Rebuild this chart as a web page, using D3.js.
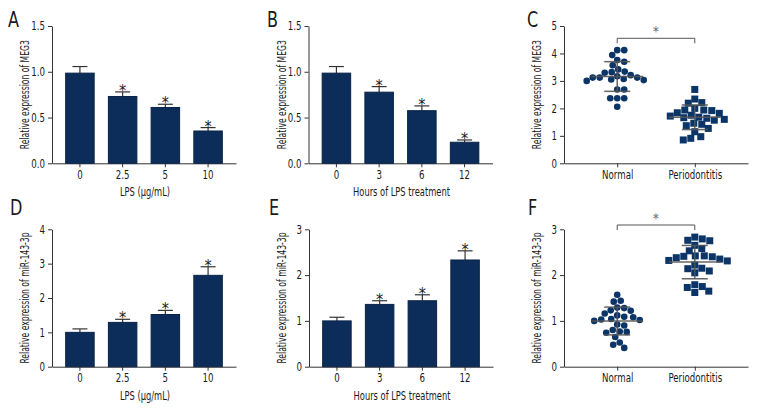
<!DOCTYPE html>
<html><head><meta charset="utf-8">
<script src="https://cdn.jsdelivr.net/npm/d3@7"></script>
<style>
body{margin:0;background:#fff}
svg{display:block}
text{font-family:"DejaVu Sans Condensed","Liberation Sans Narrow",sans-serif;fill:#1a1a1a}
</style>
</head><body>
<svg id="chart" width="768" height="420"></svg>
<script>
// ---- data ----
const lpsDoses = ["0", "2.5", "5", "10"];
const lpsHours = ["0", "3", "6", "12"];
const groups = ["Normal", "Periodontitis"];

const megDose = [0.985, 0.73, 0.61, 0.353];
const megDoseErr = [0.072, 0.05, 0.035, 0.037];
const megHours = [0.985, 0.777, 0.575, 0.23];
const megHoursErr = [0.072, 0.061, 0.052, 0.025];
const mirDose = [1.0, 1.29, 1.52, 2.66];
const mirDoseErr = [0.1, 0.09, 0.12, 0.25];
const mirHours = [1.0, 1.36, 1.44, 2.33];
const mirHoursErr = [0.08, 0.08, 0.13, 0.2];
const significant = [false, true, true, true];

const megNormal = [4.12, 4.12, 3.94, 3.76, 3.70, 3.57, 3.42, 3.34, 3.32, 3.30, 3.21, 3.17, 3.12, 3.12, 3.12, 3.07, 3.05, 3.03, 3.0, 2.69, 2.69, 2.37, 2.37, 2.37, 2.06];
const megPerio = [2.69, 2.34, 2.21, 2.19, 2.0, 1.94, 1.94, 1.92, 1.84, 1.82, 1.75, 1.72, 1.68, 1.66, 1.64, 1.60, 1.57, 1.46, 1.42, 1.37, 1.27, 1.15, 0.97, 0.91, 0.85];
const mirNormal = [1.57, 1.44, 1.42, 1.29, 1.28, 1.23, 1.22, 1.16, 1.12, 1.09, 1.08, 1.04, 1.03, 1.02, 1.0, 0.92, 0.90, 0.80, 0.77, 0.76, 0.74, 0.65, 0.53, 0.48, 0.41];
const mirPerio = [2.83, 2.79, 2.76, 2.75, 2.65, 2.58, 2.53, 2.42, 2.42, 2.41, 2.40, 2.38, 2.35, 2.32, 2.31, 2.22, 2.15, 2.14, 2.09, 2.05, 1.79, 1.75, 1.73, 1.65, 1.62];

const ticks15 = [0, 0.5, 1.0, 1.5];
const ticks5 = [0, 1, 2, 3, 4, 5];
const ticks4 = [0, 1, 2, 3, 4];
const ticks3 = [0, 1, 2, 3];

// ---- drawing ----
const svg = d3.select("#chart");
const BAR = "#0c2d5a", DOT = "#0b3467", AX = "#333", GR = "#555";
const FONT = '"DejaVu Sans Condensed","Liberation Sans Narrow",sans-serif';

function condense(sel, f) {
  sel.each(function () {
    const L = this.getComputedTextLength();
    if (L > 0) d3.select(this).attr("textLength", L * f).attr("lengthAdjust", "spacingAndGlyphs");
  });
}

function styleAxis(g) {
  g.selectAll(".domain").attr("stroke", AX).attr("stroke-width", 1);
  g.selectAll(".tick line").attr("stroke", AX);
  g.selectAll(".tick text").attr("font-size", 12).attr("fill", "#1a1a1a").attr("font-family", FONT)
    .call(condense, 0.8);
}

function frame(o, x) {
  const y = d3.scaleLinear().domain([0, o.yMax]).range([o.bottom, o.top]);
  const g = svg.append("g");
  g.append("g").attr("transform", `translate(0,${o.bottom})`)
    .call(d3.axisBottom(x).tickSize(4).tickSizeOuter(0)).call(styleAxis);
  g.append("g").attr("transform", `translate(${o.x0},0)`)
    .call(d3.axisLeft(y).tickValues(o.ticks).tickFormat(o.fmt).tickSize(4).tickSizeOuter(0)).call(styleAxis);
  g.append("text").attr("transform", `translate(${o.x0 - 27},${(o.top + o.bottom) / 2}) rotate(-90)`)
    .attr("text-anchor", "middle").attr("dy", "0.35em").attr("font-size", 11.5).text(o.yTitle)
    .call(condense, 0.74);
  if (o.xTitle) g.append("text").attr("x", (x.range()[0] + x.range()[1]) / 2 + 1).attr("y", o.bottom + 33)
    .attr("text-anchor", "middle").attr("font-size", 12).text(o.xTitle).call(condense, 0.77);
  svg.append("text").attr("x", o.lx).attr("y", o.ly).attr("font-size", 21).text(o.letter).call(condense, 0.85);
  return {g, y};
}

function barPanel(o) {
  const x = d3.scaleBand().domain(o.cats).range([o.x0, o.x0 + 184]).paddingInner(0.333).paddingOuter(0.32);
  const {g, y} = frame(o, x);
  const d = o.cats.map((c, i) => ({c, v: o.vals[i], e: o.errs[i], s: o.sig[i]}));
  const bw = x.bandwidth();
  g.selectAll("line.err").data(d).join("line").attr("class", "err")
    .attr("x1", p => x(p.c) + bw / 2).attr("x2", p => x(p.c) + bw / 2)
    .attr("y1", p => y(p.v)).attr("y2", p => y(p.v + p.e)).attr("stroke", AX).attr("stroke-width", 1.2);
  g.selectAll("line.cap").data(d).join("line").attr("class", "cap")
    .attr("x1", p => x(p.c) + bw / 2 - 7.5).attr("x2", p => x(p.c) + bw / 2 + 7.5)
    .attr("y1", p => y(p.v + p.e)).attr("y2", p => y(p.v + p.e)).attr("stroke", AX).attr("stroke-width", 1.2);
  g.selectAll("rect").data(d).join("rect")
    .attr("x", p => x(p.c)).attr("width", bw)
    .attr("y", p => y(p.v)).attr("height", p => o.bottom - y(p.v))
    .attr("fill", BAR).attr("stroke", "#0a2346").attr("stroke-width", 1);
  g.selectAll("text.ast").data(d.filter(p => p.s)).join("text").attr("class", "ast")
    .attr("x", p => x(p.c) + bw / 2).attr("y", p => y(p.v + p.e) + 4)
    .attr("text-anchor", "middle").attr("font-size", 16).attr("font-family", "DejaVu Sans")
    .style("fill", "#1a1a1a").text("*");
}

function swarm(vals, y, cx, diam) {
  const placed = [];
  return vals.map(v => {
    const py = y(v);
    let off = 0;
    for (let k = 0; k < 400; k++) {
      const cand = (k % 2 ? 1 : -1) * Math.ceil(k / 2) * 0.5;
      const ok = placed.every(p => (p.x - cand) ** 2 + (p.y - py) ** 2 >= diam * diam);
      if (ok) { off = cand; break; }
    }
    placed.push({x: off, y: py});
    return {v, x: cx + off, y: py};
  });
}

function scatterPanel(o) {
  const x = d3.scalePoint().domain(groups).range([o.x0, o.x0 + 184]).padding(0.686);
  const {g, y} = frame(o, x);
  const ptsA = swarm(o.a, y, x(groups[0]), 6.8);
  const ptsB = swarm(o.b, y, x(groups[1]), 7.6);
  g.selectAll("circle").data(ptsA).join("circle")
    .attr("cx", p => p.x).attr("cy", p => p.y).attr("r", 3.3).attr("fill", DOT);
  g.selectAll("rect.sq").data(ptsB).join("rect").attr("class", "sq")
    .attr("x", p => p.x - 3.5).attr("y", p => p.y - 3.5).attr("width", 7).attr("height", 7).attr("fill", DOT);
  [[o.a, groups[0]], [o.b, groups[1]]].forEach(([vals, gname]) => {
    const m = d3.mean(vals), s = d3.deviation(vals), cx = x(gname);
    const ln = (x1, y1, x2, y2) => g.append("line").attr("x1", x1).attr("y1", y1).attr("x2", x2).attr("y2", y2)
      .attr("stroke", GR).attr("stroke-width", 1.5).attr("stroke-opacity", 0.9);
    ln(cx - 26, y(m), cx + 26, y(m));
    ln(cx - 13, y(m + s), cx + 13, y(m + s));
    ln(cx - 13, y(m - s), cx + 13, y(m - s));
    ln(cx, y(m + s), cx, y(m - s));
  });
  const xa = x(groups[0]), xb = x(groups[1]);
  g.append("path").attr("d", `M${xa},${o.brY + 5}V${o.brY}H${xb}V${o.brY + 5}`)
    .attr("fill", "none").attr("stroke", GR).attr("stroke-width", 1);
  g.append("text").attr("x", (xa + xb) / 2).attr("y", o.brY - 2).attr("text-anchor", "middle")
    .attr("font-size", 14).attr("font-family", "DejaVu Sans").style("fill", "#666").text("*");
}

const f1 = d3.format(".1f"), f0 = d3.format("d");
barPanel({letter: "A", lx: 8, ly: 27, cats: lpsDoses, vals: megDose, errs: megDoseErr, sig: significant,
  yMax: 1.5, ticks: ticks15, fmt: f1, x0: 52, top: 26, bottom: 163.3, yTitle: "Relative expression of MEG3", xTitle: "LPS (μg/mL)"});
barPanel({letter: "B", lx: 267, ly: 27, cats: lpsHours, vals: megHours, errs: megHoursErr, sig: significant,
  yMax: 1.5, ticks: ticks15, fmt: f1, x0: 308.5, top: 26, bottom: 163.3, yTitle: "Relative expression of MEG3", xTitle: "Hours of LPS treatment"});
scatterPanel({letter: "C", lx: 527, ly: 27, a: megNormal, b: megPerio, yMax: 5, ticks: ticks5, fmt: f0,
  x0: 564, top: 26, bottom: 163.3, yTitle: "Relative expression of MEG3", brY: 38.3});
barPanel({letter: "D", lx: 10, ly: 215, cats: lpsDoses, vals: mirDose, errs: mirDoseErr, sig: significant,
  yMax: 4, ticks: ticks4, fmt: f0, x0: 52, top: 229.3, bottom: 366.7, yTitle: "Relative expression of miR-143-3p", xTitle: "LPS (μg/mL)"});
barPanel({letter: "E", lx: 269, ly: 215, cats: lpsHours, vals: mirHours, errs: mirHoursErr, sig: significant,
  yMax: 3, ticks: ticks3, fmt: f0, x0: 309, top: 229.3, bottom: 366.7, yTitle: "Relative expression of miR-143-3p", xTitle: "Hours of LPS treatment"});
scatterPanel({letter: "F", lx: 528, ly: 215, a: mirNormal, b: mirPerio, yMax: 3, ticks: ticks3, fmt: f0,
  x0: 564, top: 229.3, bottom: 366.7, yTitle: "Relative expression of miR-143-3p", brY: 225});
</script>
</body></html>
